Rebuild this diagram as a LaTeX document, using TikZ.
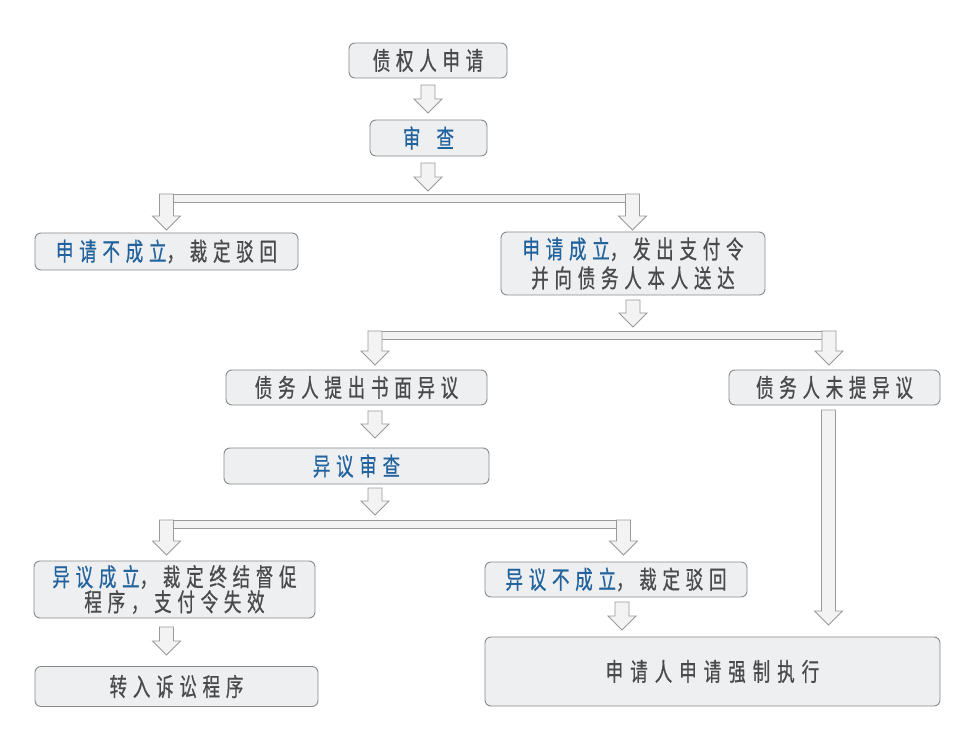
\documentclass[tikz,border=0pt]{standalone}
\usepackage{fontspec}
\newfontfamily\cjk[FakeStretch=0.7,LetterSpace=23,FakeBold=0.6]{Noto Sans CJK SC}
\newfontfamily\cjkwide[FakeStretch=0.7,LetterSpace=28,FakeBold=0.6]{Noto Sans CJK SC}
\definecolor{txt}{HTML}{4A4A4A}
\definecolor{blu}{HTML}{22639E}
\definecolor{boxfill}{HTML}{EDEFF1}
\definecolor{boxline}{HTML}{8A8A8A}
\definecolor{arrfill}{HTML}{F3F3F3}
\definecolor{arrline}{HTML}{9A9A9A}
\tikzset{
  box/.style={draw=boxline, fill=boxfill, rounded corners=6pt, line width=0.9pt,
    inner sep=0pt, text=txt, font=\cjk\fontsize{25pt}{25pt}\selectfont, align=center},
  arr/.style={draw=arrline, fill=arrfill, line width=0.8pt, line join=miter},
}
\newcommand\dnarr[3]{\draw[arr] (#1-7,#2) -- (#1+7,#2) -- (#1+7,#3-14) -- (#1+14,#3-14) -- (#1,#3) -- (#1-14,#3-14) -- (#1-7,#3-14) -- cycle;}
\newcommand\branchbar[3]{\draw[arr] (#1,#3) rectangle (#2,#3+8);}
\begin{document}
\begin{tikzpicture}[x=1pt,y=-1pt]
\useasboundingbox (0,0) rectangle (953,751);
\fill[white] (0,0) rectangle (953,751);
% boxes
\node[box, minimum width=158pt, minimum height=35pt] (b1) at (428,60.5) {债权人申请};
\node[box, minimum width=117pt, minimum height=36pt] (b2) at (428.5,138) {\color{blu}审\hspace{16pt}查};
\node[box, minimum width=263pt, minimum height=37pt] (b3) at (166.5,251.5) {{\color{blu}申请不成立}，裁定驳回};
\node[box, minimum width=264pt, minimum height=63pt, font=\cjk\fontsize{25pt}{29pt}\selectfont] (b4) at (633,263.5) {{\color{blu}申请成立}，发出支付令\\并向债务人本人送达};
\node[box, minimum width=261pt, minimum height=35pt] (b5) at (356.5,387.5) {债务人提出书面异议};
\node[box, minimum width=211pt, minimum height=35pt] (b6) at (834.5,387.5) {债务人未提异议};
\node[box, minimum width=265pt, minimum height=36pt] (b7) at (356.5,466) {\color{blu}异议审查};
\node[box, minimum width=281pt, minimum height=57pt] (b8) at (174.5,589.5) {{\color{blu}异议成立}，裁定终结督促\\程序，支付令失效};
\node[box, minimum width=262pt, minimum height=35pt] (b9) at (616,579.5) {{\color{blu}异议不成立}，裁定驳回};
\node[box, minimum width=455pt, minimum height=69pt, font=\cjkwide\fontsize{25pt}{25pt}\selectfont] (b10) at (712.5,671.5) {申请人申请强制执行};
\node[box, minimum width=283pt, minimum height=40pt] (b11) at (176.5,686.5) {转入诉讼程序};
% arrows
\dnarr{428}{85}{113}
\dnarr{428}{163}{191}
\branchbar{166.5}{632.5}{194}
\dnarr{166.5}{194}{230}
\dnarr{632.5}{194}{230}
\dnarr{633}{300}{327}
\branchbar{375}{829}{331}
\dnarr{375}{331}{365}
\dnarr{829}{331}{365}
\dnarr{375}{411}{438}
\dnarr{375}{488}{515}
\branchbar{166.5}{623.5}{520}
\dnarr{166.5}{520}{555}
\dnarr{623.5}{520}{555}
\dnarr{166.5}{627}{655}
\dnarr{622}{602}{630}
\dnarr{828.5}{410}{625}
\end{tikzpicture}
\end{document}
